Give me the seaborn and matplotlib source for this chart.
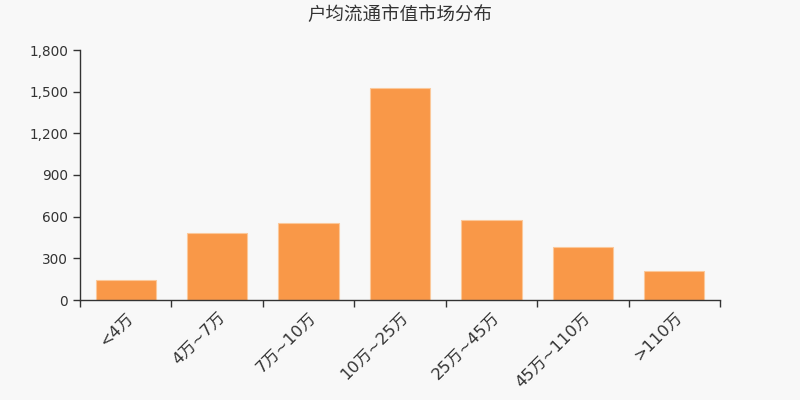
import pandas as pd
import seaborn as sns
import matplotlib.pyplot as plt
from matplotlib.ticker import FuncFormatter

# Categories and counts
categories = ['<4万', '4万~7万', '7万~10万', '10万~25万', '25万~45万', '45万~110万', '>110万']
counts = [144, 480, 554, 1524, 574, 382, 209]
yticks = [0, 300, 600, 900, 1200, 1500, 1800]

df = pd.DataFrame({'区间': categories, '户数': counts})

sns.set_theme(style='ticks')
plt.rcParams['font.family'] = ['DejaVu Sans', 'Noto Sans CJK SC']

fig = plt.figure(figsize=(8, 4), dpi=100, facecolor='#f8f8f8')
ax = fig.add_axes([0.1, 0.25, 0.8, 0.625])
ax.set_facecolor('#f8f8f8')

sns.barplot(data=df, x='区间', y='户数', color='#f99848', saturation=1,
            width=0.66, edgecolor='#fbc89a', linewidth=0.8, ax=ax)

ax.set_ylim(0, 1800)
ax.set_yticks(yticks)
ax.yaxis.set_major_formatter(FuncFormatter(lambda v, p: f'{int(v):,}'))
ax.set_xlim(-0.5, len(categories) - 0.5)
ax.set_xlabel('')
ax.set_ylabel('')

# Ticks at category boundaries, labels at centres
ax.set_xticks([i - 0.5 for i in range(len(categories) + 1)], minor=False)
ax.set_xticklabels([])
ax.set_xticks(range(len(categories)), minor=True)
ax.set_xticklabels(categories, minor=True, rotation=45, ha='right',
                   rotation_mode='anchor', fontsize=11.8, color='#333333')
ax.tick_params(axis='x', which='minor', length=0, pad=7)
ax.tick_params(axis='x', which='major', length=5, width=1, color='#333333')
ax.tick_params(axis='y', length=5, width=1, color='#333333', labelsize=9.8,
               labelcolor='#333333')

sns.despine(ax=ax)
for s in ['left', 'bottom']:
    ax.spines[s].set_color('#333333')
    ax.spines[s].set_linewidth(1)

fig.text(0.5, 0.963, '户均流通市值市场分布', ha='center', va='center',
         fontsize=13.3, color='#333333', family=['Noto Sans CJK SC', 'DejaVu Sans'])

plt.savefig('out.png', dpi=100, facecolor='#f8f8f8')
plt.close()
